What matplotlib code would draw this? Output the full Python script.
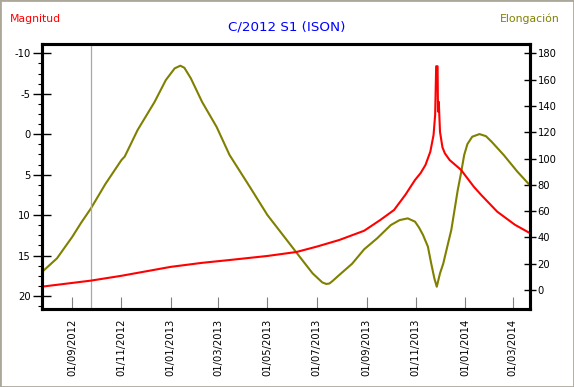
import matplotlib
matplotlib.use("Agg")
import matplotlib.pyplot as plt
import matplotlib.dates as mdates
from matplotlib.ticker import MultipleLocator, AutoMinorLocator, FuncFormatter
from matplotlib.patches import Rectangle
import pandas as pd

plt.rcParams['font.family'] = ['DejaVu Sans']
plt.rcParams['axes.unicode_minus'] = False

# ---- data ----
elong_dates = ["2012-07-25", "2012-08-13", "2012-09-01", "2012-09-12", "2012-09-24",
               "2012-10-12", "2012-11-01", "2012-11-05", "2012-11-21", "2012-12-12",
               "2012-12-26", "2013-01-06", "2013-01-13", "2013-01-18", "2013-01-26",
               "2013-02-09", "2013-02-27", "2013-03-15", "2013-04-09", "2013-05-01",
               "2013-05-25", "2013-06-10", "2013-06-26", "2013-07-08", "2013-07-13",
               "2013-07-17", "2013-07-21", "2013-07-29", "2013-08-14", "2013-08-29",
               "2013-09-14", "2013-10-01", "2013-10-12", "2013-10-22", "2013-10-31",
               "2013-11-05", "2013-11-10", "2013-11-16", "2013-11-20", "2013-11-24",
               "2013-11-27", "2013-12-01", "2013-12-05", "2013-12-11", "2013-12-15",
               "2013-12-19", "2013-12-23", "2013-12-27", "2013-12-31", "2014-01-04",
               "2014-01-10", "2014-01-19", "2014-01-27", "2014-02-03", "2014-02-18",
               "2014-03-07", "2014-03-22"]
elong_vals = [13.5, 24.1, 40.5, 51.2, 62,
              80.6, 98.9, 101.5, 121.7, 143,
              159.7, 168.6, 170.6, 169, 161,
              143, 124, 102.7, 78.6, 57,
              38, 25.3, 12.7, 5.8, 4.6,
              5.0, 7.0, 11.4, 20, 31,
              39.3, 49.4, 53.2, 54.5, 52,
              47.5, 41.8, 33, 20.5, 8.9,
              2.5, 12.7, 20, 35.5, 45.6,
              60.8, 76, 88.7, 102.7, 111,
              116.6, 118.6, 117, 112.8, 102.7,
              90, 80]

mag_dates = ["2012-07-25", "2012-09-24", "2012-11-01", "2013-01-01", "2013-02-09",
             "2013-03-20", "2013-05-01", "2013-06-06", "2013-07-01", "2013-07-29",
             "2013-08-29", "2013-09-18", "2013-10-05", "2013-10-19", "2013-10-31",
             "2013-11-07", "2013-11-13", "2013-11-19", "2013-11-23", "2013-11-25",
             "2013-11-26 06:00", "2013-11-28 00:00", "2013-11-28 12:00",
             "2013-11-29 12:00", "2013-12-01", "2013-12-04", "2013-12-07",
             "2013-12-13", "2013-12-27", "2014-01-12", "2014-01-21", "2014-02-10",
             "2014-03-04", "2014-03-22"]
mag_vals = [18.85, 18.1, 17.5, 16.4, 15.9,
            15.5, 15.05, 14.56, 13.9, 13.08,
            11.93, 10.6, 9.37, 7.5, 5.66,
            4.8, 3.8, 2.16, 0.1, -2.4,
            -8.4, -8.4, -2.8,
            -4.0, -0.3, 1.6, 2.36,
            3.2, 4.4, 6.5, 7.5, 9.58,
            11.2, 12.2]

date_ticks = ["2012-09-01", "2012-11-01", "2013-01-01", "2013-03-01", "2013-05-01",
              "2013-07-01", "2013-09-01", "2013-11-01", "2014-01-01", "2014-03-01"]
discovery_date = "2012-09-24"

title = "C/2012 S1 (ISON)"
left_label = "Magnitud"
right_label = "Elongación"

# ---- figure ----
fig = plt.figure(figsize=(5.74, 3.87), dpi=100)
fig.patch.set_facecolor('white')
W, H = 574, 387
ax = fig.add_axes([42 / W, (H - 308.7) / H, (529.5 - 42) / W, (308.7 - 44) / H])
ax2 = ax.twinx()
ax.set_zorder(ax2.get_zorder() + 1)
ax.patch.set_visible(False)

ed = pd.to_datetime(elong_dates, format='ISO8601')
md = pd.to_datetime(mag_dates, format='ISO8601')
olive = (0.5, 0.5, 0.0)
ax2.plot(ed, elong_vals, color=olive, lw=1.5, solid_joinstyle='round')
ax.plot(md, mag_vals, color=(1, 0, 0), lw=1.5, solid_joinstyle='round')
ax.axvline(pd.to_datetime(discovery_date), color=(0.66, 0.66, 0.66), lw=0.9, zorder=0)

ax.set_xlim(pd.Timestamp("2012-07-25 10:00"), pd.Timestamp("2014-03-22"))
ax.set_ylim(21.57, -11.15)
ax2.set_ylim(-14.2, 187.1)

ax.yaxis.set_major_locator(MultipleLocator(5))
ax.yaxis.set_minor_locator(AutoMinorLocator(4))
ax.yaxis.set_major_formatter(FuncFormatter(lambda v, p: "%d" % round(v)))
ax2.yaxis.set_major_locator(MultipleLocator(20))
ax2.yaxis.set_major_formatter(FuncFormatter(lambda v, p: "%d" % round(v)))

ax.set_xticks(pd.to_datetime(date_ticks))
ax.xaxis.set_major_formatter(mdates.DateFormatter("%d/%m/%Y"))
ax.tick_params(axis='x', direction='in', length=8.6, width=0.8, color=(0.5, 0.5, 0.5),
               pad=7, labelsize=7.2, labelrotation=90, labelcolor='black')
for lbl in ax.get_xticklabels():
    lbl.set_va('top')
    lbl.set_ha('center')
ax.tick_params(axis='y', which='major', direction='inout', length=12.3, width=1.0,
               pad=2, labelsize=7.2)
ax.tick_params(axis='y', which='minor', direction='out', length=2.8, width=0.8)
ax2.tick_params(axis='y', which='major', direction='inout', length=8.6, width=1.0,
                pad=1.5, labelsize=7.2)

for a in (ax, ax2):
    for s in a.spines.values():
        s.set_linewidth(2.2)
        s.set_color('black')

fig.text(10 / W, 1 - 19 / H, left_label, color=(1, 0, 0), fontsize=7.8,
         ha='left', va='center')
fig.text(560 / W, 1 - 19 / H, right_label, color=olive, fontsize=7.8,
         ha='right', va='center')
fig.text(287 / W, 1 - 27 / H, title, color=(0, 0, 1), fontsize=9.7,
         ha='center', va='center')

fig.patches.append(Rectangle((0, 0), 1, 1, transform=fig.transFigure, fill=False,
                             edgecolor=(0.675, 0.66, 0.6), linewidth=2.0))

fig.savefig("out.png", dpi=100)
